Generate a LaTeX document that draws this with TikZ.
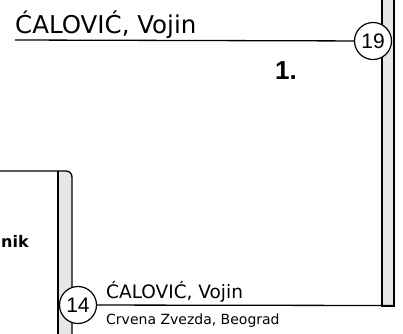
\documentclass[tikz,border=0pt]{standalone}
\usepackage{fontspec}
\setmainfont{DejaVu Sans}
\newfontfamily\arialf{Liberation Sans}
\definecolor{stripgray}{HTML}{E6E6E6}
\begin{document}
\begin{tikzpicture}[x=1pt,y=-1pt,
  boxline/.style={draw=black,line width=1.3pt},
  seed/.style={circle,draw=black,fill=white,line width=1.2pt,minimum size=37pt,inner sep=0pt,
    font=\arialf\fontsize{21}{21}\selectfont},
  lbl/.style={anchor=base west,inner sep=0pt}]
\useasboundingbox (0,0) rectangle (403,333);
\clip (0,0) rectangle (403,333);
% left box
\begin{scope}
  \clip[rounded corners=6pt] (-30,171) rectangle (72,360);
  \fill[stripgray] (58,160) rectangle (72,360);
\end{scope}
\draw[boxline,rounded corners=6pt] (-30,171) -- (72,171) -- (72,360);
\draw[boxline] (58,171) -- (58,360);
\node[lbl,font=\bfseries\fontsize{16}{16}\selectfont] (nik) at (1,247) {nik};
% right strip
\filldraw[boxline,fill=stripgray] (382,-10) rectangle (394,306);
% top entry
\coordinate (tl) at (15,40);
\node[seed] (c19) at (373,41) {19};
\draw[line width=1.3pt] (tl) -- (c19);
\node[lbl,font=\fontsize{24.5}{24.5}\selectfont] (n1) at (15,33) {ĆALOVIĆ, Vojin};
\node[lbl,font=\arialf\bfseries\fontsize{26}{26}\selectfont] (rank) at (275,79) {1.};
% bottom entry
\coordinate (br) at (394,305.5);
\node[seed] (c14) at (78,305) {14};
\draw[line width=1.3pt] (c14) -- (br);
\node[lbl,font=\fontsize{18.5}{18.5}\selectfont] (n2) at (106,298) {ĆALOVIĆ, Vojin};
\node[lbl,font=\fontsize{14}{14}\selectfont] (club) at (106,324) {Crvena Zvezda, Beograd};
\end{tikzpicture}
\end{document}
